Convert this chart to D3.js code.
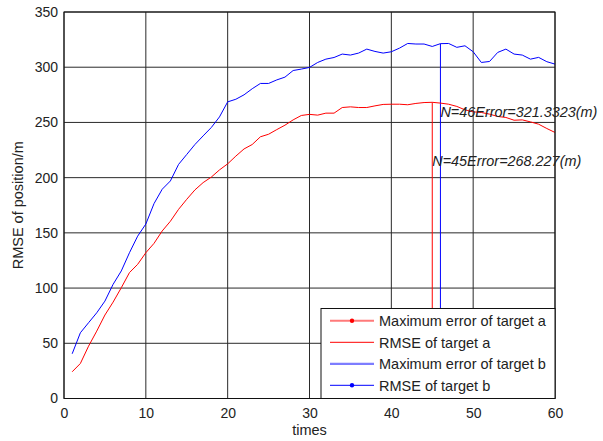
<!DOCTYPE html>
<html>
<head>
<meta charset="utf-8">
<script src="https://cdn.jsdelivr.net/npm/d3@7"></script>
<style>
  body { margin: 0; background: #fff; }
  svg { display: block; font-family: "Liberation Sans", Arial, sans-serif; }
</style>
</head>
<body>
<svg id="chart" width="603" height="441"></svg>
<script>
// ---- data ----
const times = d3.range(1, 61);
const errorB = [40.5, 59.5, 68.6, 77.6, 88.2, 103.4, 115.5, 132, 147, 158,
  176.5, 189.5, 197, 212, 221, 230, 237.8, 245.4, 255, 268.6,
  271, 275, 280.5, 285.3, 285.3, 288.5, 291, 297, 298.3, 299.8,
  304.3, 307.3, 308.8, 311.9, 311, 312.8, 316.4, 314.3, 312.8, 314,
  317.3, 321.5, 321, 321, 318.8, 321.3323, 321.5, 318, 319.4, 314,
  304.3, 305.2, 313.4, 316.4, 311.9, 311, 307.3, 308.9, 305, 302.8];
const errorA = [24.2, 31.7, 47.4, 61, 75.6, 87.3, 100.3, 114, 121.5, 132,
  140.5, 151.7, 160.5, 171.3, 180.4, 188.9, 195.5, 200.5, 207, 212.5,
  219.5, 226, 230, 237, 239.3, 243.5, 247.5, 252.3, 256.3, 257.3,
  256.6, 258.4, 258.4, 263.5, 264.1, 263.5, 263.5, 265, 266.3, 266.5,
  266.5, 266, 267.2, 268, 268.227, 267.5, 266.5, 264.5, 261.4, 259.6,
  259, 257.5, 255.4, 254.5, 252, 252.3, 250.5, 248.4, 244.5, 240.9];
const xTicks = [0, 10, 20, 30, 40, 50, 60];
const yTicks = [0, 50, 100, 150, 200, 250, 300, 350];
const legendLabels = ["Maximum error of target a", "RMSE of target a", "Maximum error of target b", "RMSE of target b"];
const markA = { n: 45, value: 268.227, label: "N=45Error=268.227(m)", ty: 210.8 };
const markB = { n: 46, value: 321.3323, label: "N=46Error=321.3323(m)", ty: 254.6 };

// ---- layout ----
const svg = d3.select("#chart");
const L = 64, R = 555, T = 12, B = 398.5;
const x = d3.scaleLinear().domain([0, 60]).range([L, R]);
const y = d3.scaleLinear().domain([0, 350]).range([B, T]);
const ink = "#222";

// grid
const grid = svg.append("g");
grid.selectAll("line.vx").data(xTicks).join("line")
  .attr("x1", d => x(d)).attr("x2", d => x(d)).attr("y1", T).attr("y2", B)
  .attr("stroke", "#2a2a2a").attr("stroke-width", 1);
grid.selectAll("line.hy").data(yTicks).join("line")
  .attr("y1", d => y(d)).attr("y2", d => y(d)).attr("x1", L).attr("x2", R)
  .attr("stroke", "#2a2a2a").attr("stroke-width", 1);

// axes
const xAxis = d3.axisBottom(x).tickValues(xTicks).tickSize(0).tickPadding(10);
const yAxis = d3.axisLeft(y).tickValues(yTicks).tickSize(0).tickPadding(6);
const gx = svg.append("g").attr("transform", `translate(0,${B})`).call(xAxis);
const gy = svg.append("g").attr("transform", `translate(${L},0)`).call(yAxis);
[gx, gy].forEach(g => {
  g.select(".domain").remove();
  g.selectAll("text").attr("font-size", 14).attr("fill", ink)
    .attr("font-family", "Liberation Sans, Arial, sans-serif");
});

// marker vertical lines
svg.append("line").attr("x1", x(markA.n)).attr("x2", x(markA.n))
  .attr("y1", y(markA.value)).attr("y2", B).attr("stroke", "#ff0000").attr("stroke-width", 1);
svg.append("line").attr("x1", x(markB.n)).attr("x2", x(markB.n))
  .attr("y1", y(markB.value)).attr("y2", B).attr("stroke", "#0000ff").attr("stroke-width", 1);

// series
const line = d3.line().x((d, i) => x(times[i])).y(d => y(d));
svg.append("path").datum(errorA).attr("d", line)
  .attr("fill", "none").attr("stroke", "#ff0000").attr("stroke-width", 1);
svg.append("path").datum(errorB).attr("d", line)
  .attr("fill", "none").attr("stroke", "#0000ff").attr("stroke-width", 1);

// box
svg.append("rect").attr("x", L).attr("y", T).attr("width", R - L).attr("height", B - T)
  .attr("fill", "none").attr("stroke", "#111").attr("stroke-width", 1);

// annotations
[[markB, 157], [markA, 149]].forEach(([m, w]) => {
  svg.append("text").attr("x", x(m.n)).attr("y", y(m.ty))
    .attr("font-size", 14.5).attr("font-style", "italic").attr("fill", ink)
    .attr("textLength", w).attr("lengthAdjust", "spacingAndGlyphs")
    .text(m.label);
});

// axis titles
svg.append("text").attr("x", (L + R) / 2).attr("y", 435).attr("text-anchor", "middle")
  .attr("font-size", 14.5).attr("fill", ink).text("times");
svg.append("text").attr("transform", `translate(23,${(T + B) / 2}) rotate(-90)`)
  .attr("text-anchor", "middle").attr("font-size", 14.5).attr("fill", ink).text("RMSE of position/m");

// legend
const lg = svg.append("g");
const lx = 321, ly = 308.5;
lg.append("rect").attr("x", lx).attr("y", ly).attr("width", R - lx).attr("height", B - ly)
  .attr("fill", "#fff").attr("stroke", "#111").attr("stroke-width", 1);
const styles = [
  { color: "#ff7a7a", w: 2, dot: "#ff0000" },
  { color: "#ff0000", w: 1, dot: null },
  { color: "#7d7dff", w: 2.2, dot: null },
  { color: "#0000ff", w: 1, dot: "#0000ff" }
];
legendLabels.forEach((lab, i) => {
  const cy = 320.8 + i * 21.5;
  const s = styles[i];
  lg.append("line").attr("x1", 330).attr("x2", 374).attr("y1", cy).attr("y2", cy)
    .attr("stroke", s.color).attr("stroke-width", s.w);
  if (s.dot) lg.append("circle").attr("cx", 352).attr("cy", cy).attr("r", 2.2).attr("fill", s.dot);
  lg.append("text").attr("x", 379).attr("y", cy + 5.2).attr("font-size", 14.5)
    .attr("fill", ink).text(lab);
});
</script>
</body>
</html>
